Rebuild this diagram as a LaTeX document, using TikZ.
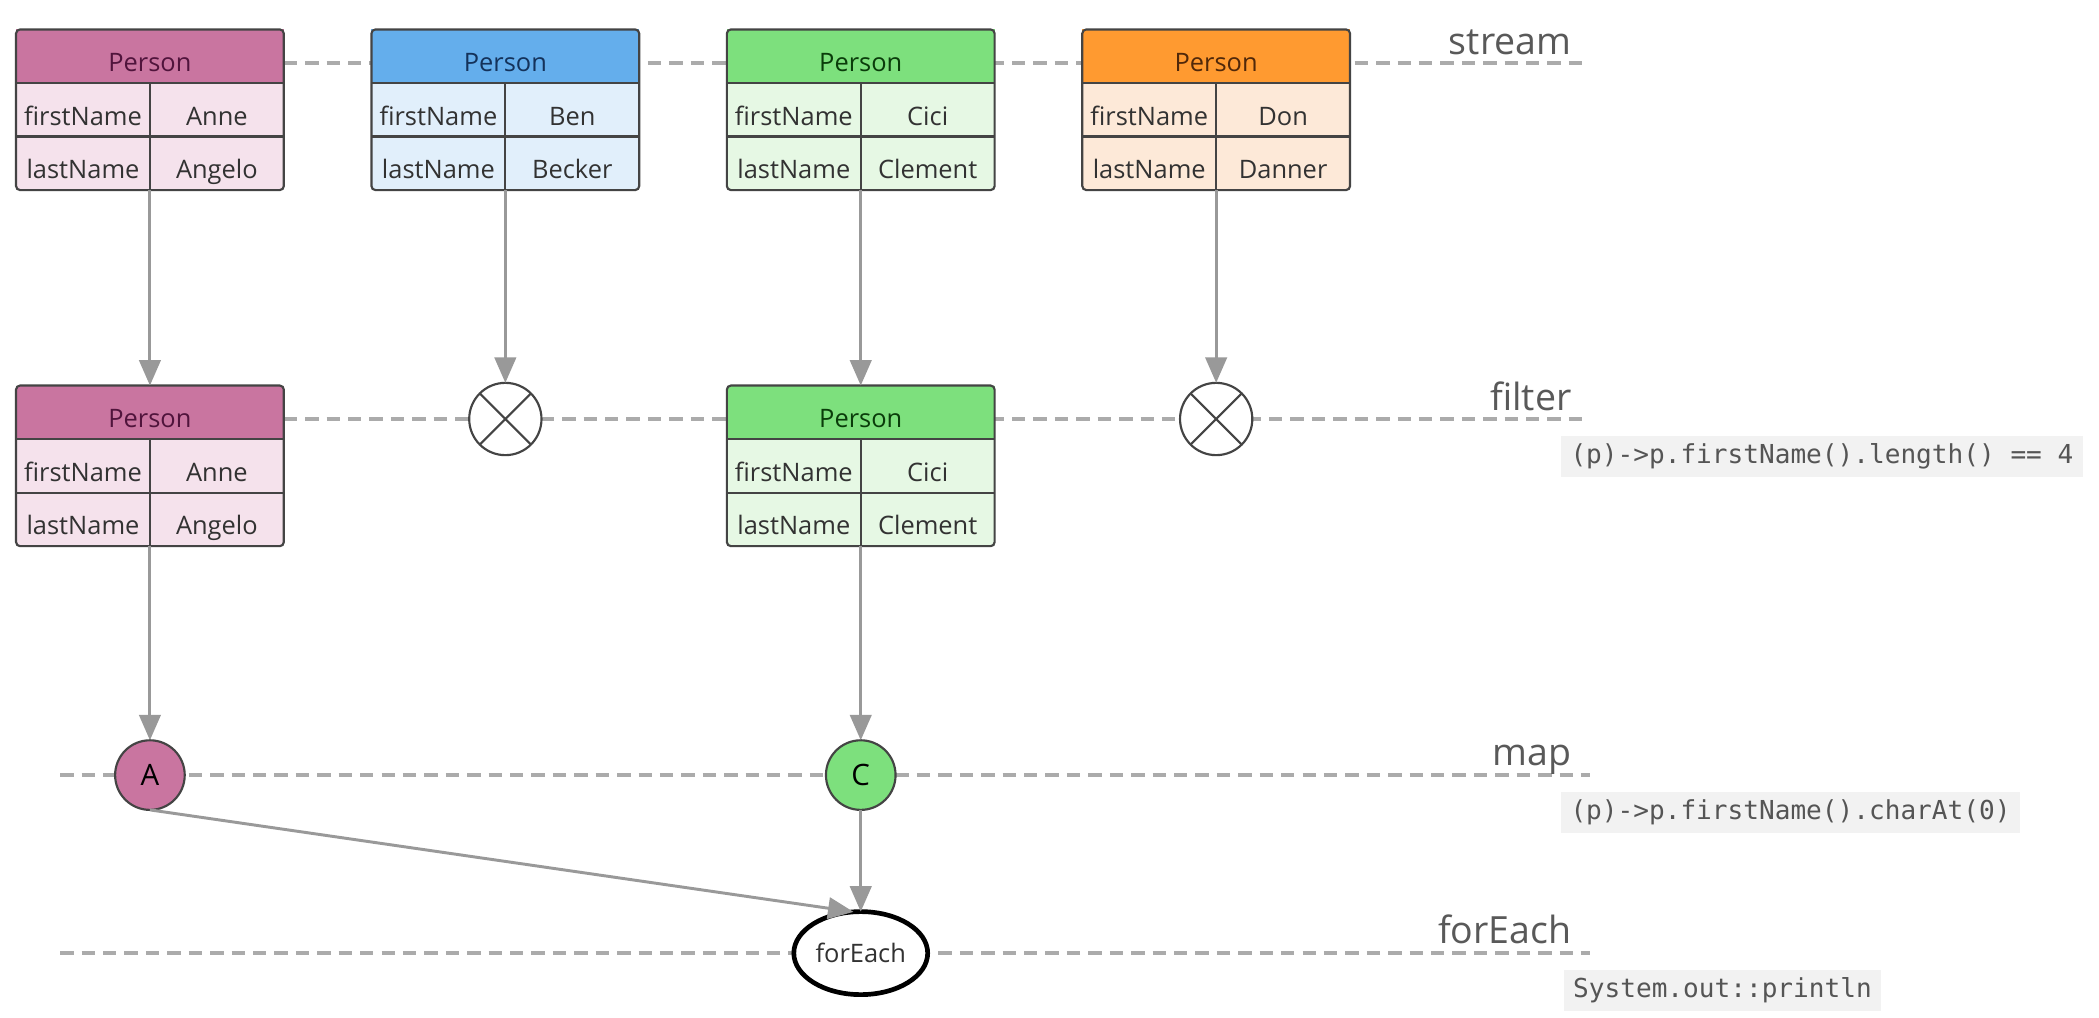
\documentclass[tikz,border=0pt]{standalone}
\usepackage{fontspec}
\setmainfont{Open Sans}
\setmonofont{DejaVu Sans Mono}
\usetikzlibrary{arrows.meta,shapes.geometric}

\definecolor{pinkH}{RGB}{201,117,160}
\definecolor{pinkB}{RGB}{245,226,236}
\definecolor{pinkT}{RGB}{80,20,60}
\definecolor{blueH}{RGB}{100,174,236}
\definecolor{blueB}{RGB}{225,239,251}
\definecolor{blueT}{RGB}{20,50,90}
\definecolor{greenH}{RGB}{125,224,125}
\definecolor{greenB}{RGB}{230,248,228}
\definecolor{greenT}{RGB}{10,60,10}
\definecolor{orangeH}{RGB}{255,154,48}
\definecolor{orangeB}{RGB}{253,233,216}
\definecolor{orangeT}{RGB}{80,40,10}
\definecolor{boxgray}{RGB}{68,68,68}
\definecolor{textgray}{RGB}{50,50,50}
\definecolor{lanegray}{RGB}{171,171,171}
\definecolor{arrowgray}{RGB}{153,153,153}
\definecolor{labelgray}{RGB}{89,89,89}
\definecolor{codebg}{RGB}{242,242,242}
\definecolor{codetext}{RGB}{85,85,85}

\tikzset{
  phead/.style={rectangle, minimum width=200pt, minimum height=40pt, inner sep=0pt, outer sep=0pt, text height=23pt, text depth=0pt, font=\fontsize{19}{22}\selectfont},
  pcell/.style={rectangle, minimum width=100pt, minimum height=40pt, inner sep=0pt, outer sep=0pt, text height=23pt, text depth=0pt, text=textgray, font=\fontsize{19}{22}\selectfont},
  boxline/.style={draw=boxgray, line width=1.6pt},
  lane/.style={draw=lanegray, line width=2.5pt, dash pattern=on 10pt off 6pt},
  flow/.style={draw=arrowgray, line width=2.2pt, -{Triangle[length=19pt,width=16pt]}},
  lanelabel/.style={anchor=base east, text=labelgray, font=\fontsize{28}{32}\selectfont, inner sep=0pt},
  codebox/.style={anchor=west, fill=codebg, text=codetext, font=\ttfamily\fontsize{19.5}{22}\selectfont, inner xsep=7pt, inner ysep=0pt, minimum height=31pt},
  xcirc/.style={circle, draw=boxgray, line width=1.6pt, fill=white, minimum size=54pt, inner sep=0pt, outer sep=0pt},
  mcirc/.style={circle, draw=boxgray, line width=1.6pt, minimum size=52pt, inner sep=0pt, outer sep=0pt, text=black, font=\fontsize{22}{26}\selectfont},
  feell/.style={ellipse, draw=black, line width=3.5pt, fill=white, minimum width=100pt, minimum height=62pt, inner sep=0pt, outer sep=0pt, text=textgray, font=\fontsize{19}{22}\selectfont},
}

\newcommand\personbox[7]{%
  \node[phead, fill=#3, text=#5] (#1) at #2 {Person};
  \node[pcell, fill=#4, anchor=north west] (#1k1) at (#1.south west) {firstName};
  \node[pcell, fill=#4, anchor=north east] (#1v1) at (#1.south east) {#6};
  \node[pcell, fill=#4, anchor=north west] (#1k2) at (#1k1.south west) {lastName};
  \node[pcell, fill=#4, anchor=north east] (#1v2) at (#1v1.south east) {#7};
  \draw[boxline] (#1.south west) -- (#1.south east) (#1k1.south west) -- (#1v1.south east) (#1k1.north east) -- (#1k2.south east);
  \draw[boxline, rounded corners=3pt] (#1.north west) rectangle (#1v2.south east);
}

\begin{document}
\begin{tikzpicture}[x=1pt,y=-1pt]
\useasboundingbox[fill=white] (0,0) rectangle (1568,760);

% lanes
\coordinate (sL) at (212,47);   \coordinate (sR) at (1188,47);
\coordinate (fL) at (212,313);  \coordinate (fR) at (1188,313);
\coordinate (mL) at (45,579);   \coordinate (mR) at (1188,579);
\coordinate (eL) at (45,712);   \coordinate (eR) at (1188,712);
\draw[lane] (sL) -- (sR);
\draw[lane] (fL) -- (fR);
\draw[lane] (mL) -- (mR);
\draw[lane] (eL) -- (eR);

% lane labels
\node[lanelabel] (lstream) at (1174,41) {stream};
\node[lanelabel] (lfilter) at (1174,307) {filter};
\node[lanelabel] (lmap) at (1174,572) {map};
\node[lanelabel] (lforeach) at (1174,705) {forEach};

% code
\node[codebox] (cfilter) at (1166,341) {(p)->p.firstName().length() == 4};
\node[codebox] (cmap) at (1166,607) {(p)->p.firstName().charAt(0)};
\node[codebox] (cforeach) at (1168,740) {System.out::println};

% stream row
\personbox{pa}{(112,42)}{pinkH}{pinkB}{pinkT}{Anne}{Angelo}
\personbox{pb}{(377.5,42)}{blueH}{blueB}{blueT}{Ben}{Becker}
\personbox{pc}{(643,42)}{greenH}{greenB}{greenT}{Cici}{Clement}
\personbox{pd}{(908.5,42)}{orangeH}{orangeB}{orangeT}{Don}{Danner}

% filter row
\personbox{fa}{(112,308)}{pinkH}{pinkB}{pinkT}{Anne}{Angelo}
\node[xcirc] (xb) at (377.5,313) {};
\draw[boxline] (xb.45) -- (xb.225) (xb.135) -- (xb.315);
\personbox{fc}{(643,308)}{greenH}{greenB}{greenT}{Cici}{Clement}
\node[xcirc] (xd) at (908.5,313) {};
\draw[boxline] (xd.45) -- (xd.225) (xd.135) -- (xd.315);

% map row
\node[mcirc, fill=pinkH] (ma) at (112,579) {A};
\node[mcirc, fill=greenH] (mc) at (643,579) {C};

% forEach
\node[feell] (fe) at (643,712) {forEach};

% arrows
\draw[flow] (pak2.south east) -- (fa.north);
\draw[flow] (pbk2.south east) -- (xb.north);
\draw[flow] (pck2.south east) -- (fc.north);
\draw[flow] (pdk2.south east) -- (xd.north);
\draw[flow] (fak2.south east) -- (ma.north);
\draw[flow] (fck2.south east) -- (mc.north);
\draw[flow] (ma.south) -- (fe.100);
\draw[flow] (mc.south) -- (fe.north);
\end{tikzpicture}
\end{document}
